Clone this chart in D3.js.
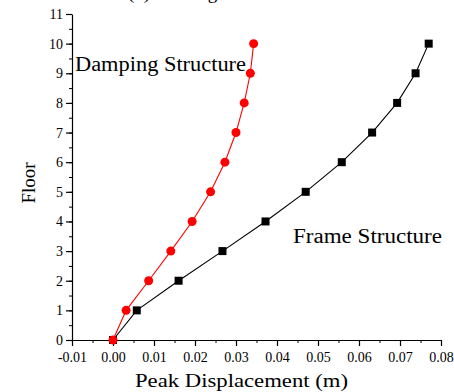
<!DOCTYPE html>
<html lang="en">
<head>
<meta charset="UTF-8">
<title>Peak Displacement</title>
<script src="https://d3js.org/d3.v7.min.js"></script>
<style>
  body { margin: 0; background: #fff; }
  svg text { font-family: "Liberation Serif", "Times New Roman", serif; fill: #000; }
</style>
</head>
<body>
<div id="chart"></div>
<script>
// data
const floors = [0, 1, 2, 3, 4, 5, 6, 7, 8, 9, 10];
const dampingDisp = [0.0, 0.0032, 0.0087, 0.0141, 0.0193, 0.0238, 0.0273, 0.0300, 0.0320, 0.0335, 0.0343];
const frameDisp = [0.0, 0.0058, 0.0160, 0.0267, 0.0372, 0.0470, 0.0558, 0.0632, 0.0693, 0.0738, 0.0770];
const xTicks = [-0.01, 0, 0.01, 0.02, 0.03, 0.04, 0.05, 0.06, 0.07, 0.08];
const yTicks = [0, 1, 2, 3, 4, 5, 6, 7, 8, 9, 10, 11];

const width = 454, height = 392;
const margin = { left: 72, right: 13, top: 14, bottom: 52 };
const serif = "'Liberation Serif', 'Times New Roman', serif";

const svg = d3.select("#chart").append("svg")
    .attr("width", width)
    .attr("height", height);

const x = d3.scaleLinear().domain([-0.01, 0.08]).range([margin.left, width - margin.right]);
const y = d3.scaleLinear().domain([0, 11]).range([height - margin.bottom, margin.top]);

// caption cut off by the top edge (only descenders visible)
svg.append("text")
    .attr("x", 128).attr("y", -1)
    .style("font-size", "19px")
    .text("(b) Shaking Table Test");

// minor ticks
const xMinor = d3.range(-0.01, 0.0801, 0.005);
const yMinor = d3.range(0, 11.01, 0.5);

svg.append("g")
    .attr("transform", `translate(0,${y(0)})`)
    .call(d3.axisBottom(x).tickValues(xMinor).tickSize(3).tickFormat(""))
    .call(g => g.select(".domain").remove());
svg.append("g")
    .attr("transform", `translate(${x(-0.01)},0)`)
    .call(d3.axisLeft(y).tickValues(yMinor).tickSize(3).tickFormat(""))
    .call(g => g.select(".domain").remove());

const xAxis = svg.append("g")
    .attr("transform", `translate(0,${y(0)})`)
    .call(d3.axisBottom(x).tickValues(xTicks).tickSize(6).tickSizeOuter(0)
        .tickFormat(d => d3.format(".2f")(d).replace("\u2212", "-")));
const yAxis = svg.append("g")
    .attr("transform", `translate(${x(-0.01)},0)`)
    .call(d3.axisLeft(y).tickValues(yTicks).tickSize(6).tickSizeOuter(0));

[xAxis, yAxis].forEach(g => {
    g.attr("font-family", serif).attr("font-size", 14);
    g.selectAll("path, line").attr("stroke", "#000").attr("stroke-width", 1.2);
    g.selectAll("text").style("font-family", serif).style("font-size", "14px");
});
xAxis.selectAll("text").attr("dy", "0.9em");

const line = d3.line()
    .x(d => x(d[0]))
    .y(d => y(d[1]));

const frame = floors.map((f, i) => [frameDisp[i], f]);
const damping = floors.map((f, i) => [dampingDisp[i], f]);

svg.append("path")
    .datum(frame)
    .attr("fill", "none").attr("stroke", "#000").attr("stroke-width", 1.1)
    .attr("d", line);
svg.selectAll("rect.frame")
    .data(frame)
    .enter().append("rect")
    .attr("class", "frame")
    .attr("x", d => x(d[0]) - 4).attr("y", d => y(d[1]) - 4)
    .attr("width", 8).attr("height", 8)
    .attr("fill", "#000");

svg.append("path")
    .datum(damping)
    .attr("fill", "none").attr("stroke", "#ff0000").attr("stroke-width", 1.1)
    .attr("d", line);
svg.selectAll("circle.damp")
    .data(damping)
    .enter().append("circle")
    .attr("class", "damp")
    .attr("cx", d => x(d[0])).attr("cy", d => y(d[1]))
    .attr("r", 4.5)
    .attr("fill", "#ff0000");

// series labels
svg.append("text")
    .attr("x", 75).attr("y", 71)
    .style("font-size", "20px")
    .attr("textLength", 171).attr("lengthAdjust", "spacingAndGlyphs")
    .text("Damping Structure");
svg.append("text")
    .attr("x", 293).attr("y", 243)
    .style("font-size", "20px")
    .attr("textLength", 149).attr("lengthAdjust", "spacingAndGlyphs")
    .text("Frame Structure");

// axis titles
svg.append("text")
    .attr("x", 135).attr("y", 387)
    .style("font-size", "19px")
    .attr("textLength", 213).attr("lengthAdjust", "spacingAndGlyphs")
    .text("Peak Displacement (m)");
svg.append("text")
    .attr("transform", `translate(35,183) rotate(-90)`)
    .attr("text-anchor", "middle")
    .style("font-size", "19px")
    .text("Floor");
</script>
</body>
</html>
